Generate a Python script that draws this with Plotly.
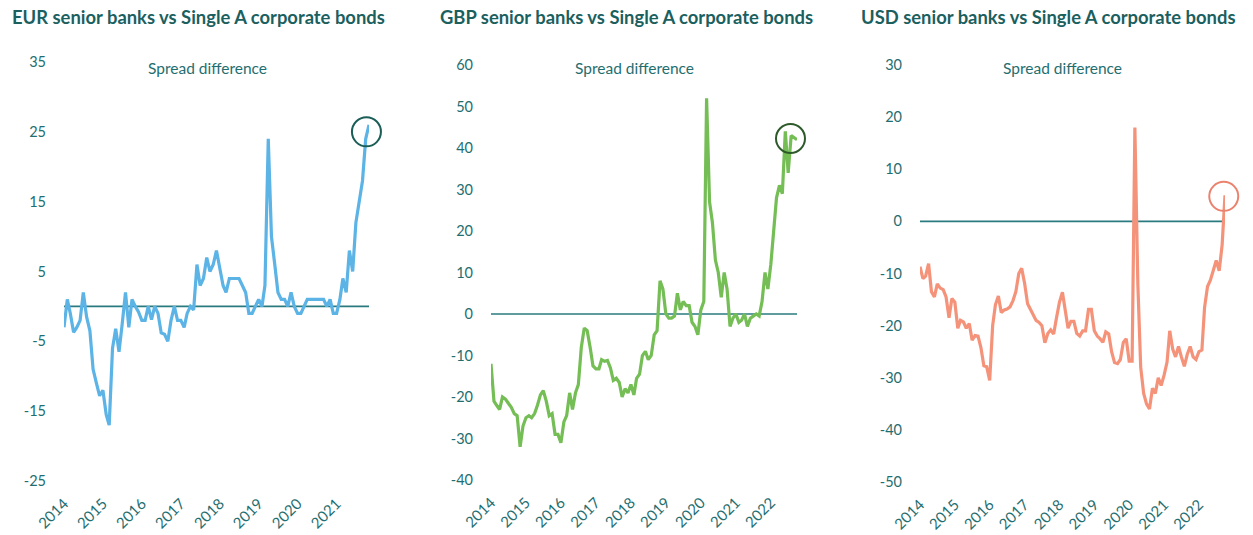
import pandas as pd
import plotly.graph_objects as go

# ---------------- data ----------------
eur_years = [2014, 2015, 2016, 2017, 2018, 2019, 2020, 2021]
gbp_years = [2014, 2015, 2016, 2017, 2018, 2019, 2020, 2021, 2022]
usd_years = [2014, 2015, 2016, 2017, 2018, 2019, 2020, 2021, 2022]

eur_yticks = [-25, -15, -5, 5, 15, 25, 35]
gbp_yticks = [-40, -30, -20, -10, 0, 10, 20, 30, 40, 50, 60]
usd_yticks = [-50, -40, -30, -20, -10, 0, 10, 20, 30]

eur_values = [
    -3, 1, -1, -3.7, -3, -2, 2, -1.5, -3.5, -9,
    -11, -12.8, -12, -15.5, -17, -6, -3.2, -6.5, -2.5, 2,
    -3, 1, 0, -0.8, -2, -2, 0, -1.9, 0, -1,
    -3.8, -4, -5, -2, 0, -2, -2, -3, -1, 0,
    -0.5, 6, 3, 4, 7, 5, 6, 8, 5.5, 3,
    2, 4, 4, 4, 4, 3, 2, -1, -1, 0,
    1, 0, 3, 24, 10, 6, 2, 1, 1, 0,
    2, 0, -1, -1, 0, 1, 1, 1, 1, 1,
    1, 0, 1, -1, -1, 1, 4, 2, 8, 5,
    12, 15, 18, 24, 26,
]

gbp_values = [
    -12, -21, -22, -23, -20, -20.5, -21.5, -22.5, -24, -24.5,
    -32, -27, -25, -24.5, -25, -24, -22, -19.5, -18.5, -21,
    -24.5, -24, -29, -29, -31, -26, -24.5, -19, -23, -19,
    -17, -8, -3.4, -4, -8, -12.5, -13.2, -13.2, -11, -11.4,
    -11.2, -13, -16, -15.5, -16.5, -20, -18, -19, -17, -19.5,
    -15.5, -14.5, -10, -9, -11, -10, -5, -4, 8, 6,
    0, -1, -1, -0.5, 5, 1, 3, 2, 2, -2,
    -3, -5, 1, 3, 52, 27, 22, 13, 10, 4,
    10, 6, -3, -1, 0, -2, -1.5, 0, -3, -1,
    -0.5, 0, -0.5, 3, 10, 6, 12, 21, 28, 31,
    29, 44, 34, 43, 42.5, 42,
]

usd_values = [
    -8.7, -11, -10.5, -8.1, -13.5, -14.5, -12, -12.8, -13.1, -14.5,
    -18.5, -14.8, -15.5, -20.5, -19, -19.3, -20.5, -19.6, -22.8, -21.9,
    -22, -24.2, -27.7, -27.9, -30.5, -20, -16, -14.3, -17.5, -17,
    -16.8, -16.4, -15.2, -13.5, -10, -9, -11.9, -15.8, -16.8, -18,
    -19, -19.4, -20, -23.3, -21.5, -20.8, -21.6, -18.5, -15.5, -13.6,
    -16.5, -20.5, -19.2, -19.2, -21.5, -22, -21, -21, -16.9, -16.9,
    -21, -22, -22.5, -23.2, -21.2, -21.6, -25, -27.1, -27.3, -26.5,
    -23.2, -22.5, -26.8, -26.8, 18, -12, -28, -33, -35, -36,
    -32, -33, -30, -31.5, -29.5, -27, -21, -24.5, -26, -24,
    -26, -27.8, -25.5, -24, -26, -26.5, -25, -24.7, -16.5, -12.5,
    -11.3, -9.5, -7.5, -9.5, -4.5, 5,
]

# highlighted (circled) latest readings
eur_circle = ("2021-10-08", 25.0)
gbp_circle = ("2022-07-25", 42.3)
usd_circle = ("2022-09-18", 4.8)

start = "2014-01-01"
eur_dates = pd.date_range(start, periods=len(eur_values), freq="MS")
gbp_dates = pd.date_range(start, periods=len(gbp_values), freq="MS")
usd_dates = pd.date_range(start, periods=len(usd_values), freq="MS")

# ---------------- styling ----------------
W, H = 1253, 535
TEAL_TEXT = "#1f6e70"
TITLE_COL = "#1b5f5f"
ZERO_COL = "#2a7b80"
FONT = "Lato"

panels = [
    dict(title="EUR senior banks vs Single A corporate bonds", dates=eur_dates, values=eur_values,
         years=eur_years, yticks=eur_yticks, color="#5cb3e6", circle=eur_circle, circle_col="#1b5e57",
         xpx=(64, 369), ypx=(62, 481), title_x=10, sub_x=207),
    dict(title="GBP senior banks vs Single A corporate bonds", dates=gbp_dates, values=gbp_values,
         years=gbp_years, yticks=gbp_yticks, color="#74be55", circle=gbp_circle, circle_col="#2e5a2a",
         xpx=(491, 797), ypx=(65, 480), title_x=438, sub_x=634),
    dict(title="USD senior banks vs Single A corporate bonds", dates=usd_dates, values=usd_values,
         years=usd_years, yticks=usd_yticks, color="#f4937a", circle=usd_circle, circle_col="#ea826e",
         xpx=(920, 1225), ypx=(65, 482), title_x=859, sub_x=1062),
]

fig = go.Figure()
annotations = []
for i, p in enumerate(panels, start=1):
    xa = "x" if i == 1 else f"x{i}"
    ya = "y" if i == 1 else f"y{i}"
    d = p["dates"]
    # zero reference line
    fig.add_trace(go.Scatter(x=[d[0], d[-1]], y=[0, 0], mode="lines",
                             line=dict(color=ZERO_COL, width=1.6),
                             xaxis=xa, yaxis=ya, showlegend=False, hoverinfo="skip"))
    # series
    fig.add_trace(go.Scatter(x=d, y=p["values"], mode="lines",
                             line=dict(color=p["color"], width=3.2),
                             xaxis=xa, yaxis=ya, showlegend=False))
    # circle highlight
    fig.add_trace(go.Scatter(x=[p["circle"][0]], y=[p["circle"][1]], mode="markers",
                             marker=dict(symbol="circle-open", size=29,
                                         line=dict(color=p["circle_col"], width=2),
                                         color=p["circle_col"]),
                             cliponaxis=False,
                             xaxis=xa, yaxis=ya, showlegend=False))

    xkey = "xaxis" if i == 1 else f"xaxis{i}"
    ykey = "yaxis" if i == 1 else f"yaxis{i}"
    x0, x1 = p["xpx"]
    yt, yb = p["ypx"]
    yt_vals = p["yticks"]
    fig.update_layout(**{
        xkey: dict(domain=[x0 / W, x1 / W], anchor=ya, type="date",
                   range=[d[0], d[-1]], automargin=False,
                   tickvals=[f"{y}-01-01" for y in p["years"]],
                   ticktext=[str(y) for y in p["years"]],
                   tickangle=-45, showgrid=False, zeroline=False, showline=False,
                   ticks="", ticklabelstandoff=10,
                   tickfont=dict(family=FONT, size=15, color=TEAL_TEXT)),
        ykey: dict(domain=[1 - yb / H, 1 - yt / H], anchor=xa, automargin=False,
                   range=[yt_vals[0], yt_vals[-1]],
                   tickvals=yt_vals, ticktext=[str(v) for v in yt_vals],
                   showgrid=False, zeroline=False, showline=False, ticks="",
                   ticklabelstandoff=17,
                   tickfont=dict(family=FONT, size=14.5, color=TEAL_TEXT)),
    })
    annotations.append(dict(text=f"<b>{p['title']}</b>", x=p["title_x"] / W, y=1 - 17 / H,
                            xref="paper", yref="paper", xanchor="left", yanchor="middle",
                            showarrow=False, font=dict(family=FONT, size=18.4, color=TITLE_COL)))
    annotations.append(dict(text="Spread difference", x=p["sub_x"] / W, y=1 - 68 / H,
                            xref="paper", yref="paper", xanchor="center", yanchor="middle",
                            showarrow=False, font=dict(family=FONT, size=15.5, color=TEAL_TEXT)))

fig.update_layout(width=W, height=H, margin=dict(l=0, r=0, t=0, b=0, autoexpand=False),
                  paper_bgcolor="white", plot_bgcolor="white",
                  annotations=annotations, showlegend=False)

fig.write_html("out.html")
